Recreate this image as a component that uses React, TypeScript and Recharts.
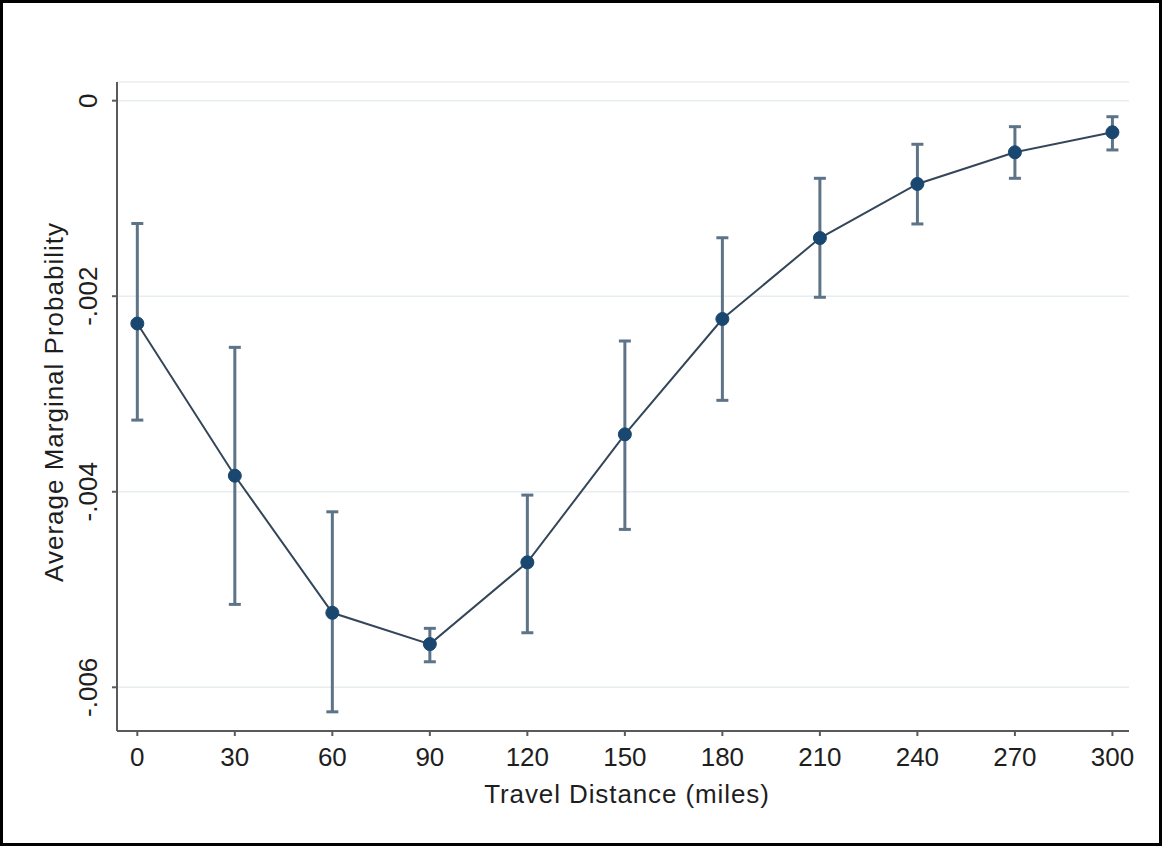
import React from 'react';
import { ComposedChart, Line, XAxis, YAxis, CartesianGrid, ErrorBar } from 'recharts';

const distances = [0, 30, 60, 90, 120, 150, 180, 210, 240, 270, 300];
const marginalProb = [-0.002279, -0.003836, -0.005238, -0.005558, -0.004722, -0.003413, -0.002233, -0.001405, -0.000852, -0.000528, -0.000323];
const ciLower = [-0.003267, -0.005152, -0.006251, -0.005739, -0.005442, -0.004385, -0.003065, -0.002011, -0.001261, -0.000794, -0.000504];
const ciUpper = [-0.001256, -0.002523, -0.004205, -0.005397, -0.004034, -0.002458, -0.001402, -0.000794, -0.000446, -0.000266, -0.000164];

const xTicks = [0, 30, 60, 90, 120, 150, 180, 210, 240, 270, 300];
const yTicks = [0, -0.002, -0.004, -0.006];
const yTickLabels = ['0', '-.002', '-.004', '-.006'];

const xTitle = 'Travel Distance (miles)';
const yTitle = 'Average Marginal Probability';

const data = distances.map((d, i) => ({
  distance: d,
  prob: marginalProb[i],
  err: [marginalProb[i] - ciLower[i], ciUpper[i] - marginalProb[i]],
}));

const FONT = '"Liberation Sans", Arial, sans-serif';
const AXIS_COLOR = '#5a5a5a';
const TEXT_COLOR = '#1e1e1e';

const YTick = (props: any) => {
  const { x, y, payload } = props;
  const idx = yTicks.findIndex((t) => Math.abs(t - payload.value) < 1e-9);
  const label = idx >= 0 ? yTickLabels[idx] : String(payload.value);
  return (
    <text
      x={x}
      y={y}
      transform={`rotate(-90 ${x} ${y})`}
      textAnchor="middle"
      fontSize={26}
      fontFamily={FONT}
      fill={TEXT_COLOR}
    >
      {label}
    </text>
  );
};

export default function App() {
  return (
    <div
      style={{
        position: 'absolute',
        left: 0,
        top: 0,
        width: 1162,
        height: 846,
        boxSizing: 'border-box',
        border: '3px solid #000',
        background: '#fff',
      }}
    >
      <div style={{ position: 'absolute', left: -3, top: -3 }}>
        <ComposedChart
          width={1162}
          height={846}
          data={data}
          margin={{ top: 82, right: 33, bottom: 55, left: 37 }}
        >
          <CartesianGrid horizontal={true} vertical={false} stroke="#e8eef0" strokeWidth={1.5} />
          <XAxis
            dataKey="distance"
            type="number"
            domain={[-6.25, 305.1]}
            ticks={xTicks}
            allowDataOverflow
            height={60}
            tickSize={5}
            tickMargin={12}
            axisLine={{ stroke: AXIS_COLOR, strokeWidth: 2 }}
            tickLine={{ stroke: AXIS_COLOR, strokeWidth: 2 }}
            tick={{ fontSize: 26, fontFamily: FONT, fill: TEXT_COLOR }}
            label={{
              content: () => (
                <text x={627} y={803} textAnchor="middle" fontSize={26} letterSpacing={0.9} fontFamily={FONT} fill={TEXT_COLOR}>
                  {xTitle}
                </text>
              ),
            }}
          />
          <YAxis
            type="number"
            domain={[-0.006447, 0.000191]}
            ticks={yTicks}
            allowDataOverflow
            width={80}
            tickSize={5}
            tickMargin={15}
            axisLine={{ stroke: AXIS_COLOR, strokeWidth: 2 }}
            tickLine={{ stroke: AXIS_COLOR, strokeWidth: 2 }}
            tick={<YTick />}
            label={{
              content: () => (
                <text
                  x={63}
                  y={402}
                  transform="rotate(-90 63 402)"
                  textAnchor="middle"
                  fontSize={26}
                  letterSpacing={1}
                  fontFamily={FONT}
                  fill={TEXT_COLOR}
                >
                  {yTitle}
                </text>
              ),
            }}
          />
          <Line
            dataKey="prob"
            type="linear"
            stroke="#34475a"
            strokeWidth={2}
            isAnimationActive={false}
            dot={{ r: 6.5, fill: '#1a476f', stroke: '#1a476f', strokeWidth: 1 }}
            activeDot={false}
          >
            <ErrorBar dataKey="err" direction="y" width={6} stroke="#5d7387" strokeWidth={3} isAnimationActive={false} />
          </Line>
        </ComposedChart>
      </div>
    </div>
  );
}
